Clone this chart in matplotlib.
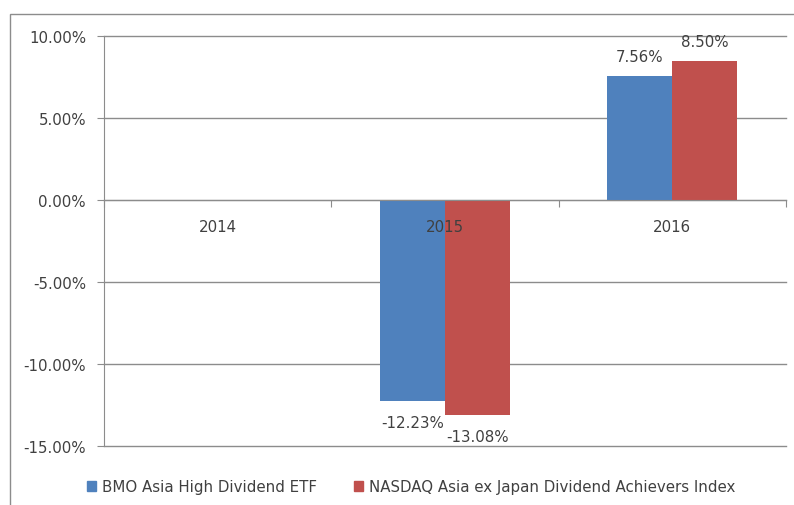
import numpy as np
import matplotlib
matplotlib.use('Agg')
import matplotlib.pyplot as plt
from matplotlib.patches import Rectangle, Patch
from matplotlib.ticker import FixedLocator, FuncFormatter, NullFormatter

years = ['2014', '2015', '2016']
bmo_etf = [np.nan, -12.23, 7.56]
nasdaq_index = [np.nan, -13.08, 8.50]
series_names = ['BMO Asia High Dividend ETF',
                'NASDAQ Asia ex Japan Dividend Achievers Index']
colors = ['#4F81BD', '#C0504D']

plt.rcParams['font.family'] = ['DejaVu Sans']
text_color = '#404040'
grid_color = '#8C8C8C'
fs = 10.8

W, H = 794, 506
fig = plt.figure(figsize=(W / 100, H / 100), dpi=100)
ax = fig.add_axes([104 / W, 1 - 447 / H, (786 - 104) / W, (447 - 37) / H])

# chart area border
fig.patches.append(Rectangle((10 / W, -0.01), 1.0, 1 - 15 / H + 0.01,
                             transform=fig.transFigure, fill=False,
                             edgecolor=grid_color, linewidth=1.0))

x = np.arange(len(years))
bw = 0.286
for vals, off, c, name in [(bmo_etf, -bw / 2, colors[0], series_names[0]),
                           (nasdaq_index, bw / 2, colors[1], series_names[1])]:
    ax.bar(x + off, vals, bw, color=c, label=name, zorder=3)
    for xi, v in zip(x, vals):
        if np.isnan(v):
            continue
        dy = 13.7 if v > 0 else -16
        ax.annotate(f'{v:.2f}%', (xi + off, v), xytext=(0, dy),
                    textcoords='offset points', ha='center', va='center',
                    fontsize=fs, color=text_color, zorder=5)

ax.set_xlim(-0.5, 2.5)
ax.set_ylim(-15, 10)
ax.set_yticks([-15, -10, -5, 0, 5, 10])
ax.yaxis.set_major_formatter(FuncFormatter(lambda v, p: f'{v:.2f}%'))
ax.tick_params(axis='y', length=5, color=grid_color, labelsize=fs,
               labelcolor=text_color, pad=8)
ax.yaxis.grid(True, color=grid_color, linewidth=1.0)
ax.set_axisbelow(True)
for gl in ax.get_ygridlines():
    gl.set_clip_on(False)

# category axis sits on the zero line
ax.spines['bottom'].set_position(('data', 0))
ax.spines['bottom'].set_color(grid_color)
ax.spines['bottom'].set_zorder(4)
ax.spines['left'].set_color(grid_color)
ax.spines['top'].set_visible(False)
ax.spines['right'].set_visible(False)
ax.xaxis.set_major_locator(FixedLocator([-0.5, 0.5, 1.5, 2.5]))
ax.xaxis.set_major_formatter(NullFormatter())
ax.tick_params(axis='x', which='major', length=5, color=grid_color)
for xi, yr in zip(x, years):
    ax.annotate(yr, (xi, 0), xytext=(0, -19), textcoords='offset points',
                ha='center', va='center', fontsize=fs, color=text_color,
                zorder=6)

handles = [Patch(color=c) for c in colors]
fig.legend(handles, series_names, loc='center', ncol=2,
           bbox_to_anchor=(411 / W, 1 - 488 / H), frameon=False,
           fontsize=fs, labelcolor=text_color, handlelength=0.6,
           handleheight=0.6, handletextpad=0.4, columnspacing=2.5)

fig.savefig('out.png', dpi=100)
